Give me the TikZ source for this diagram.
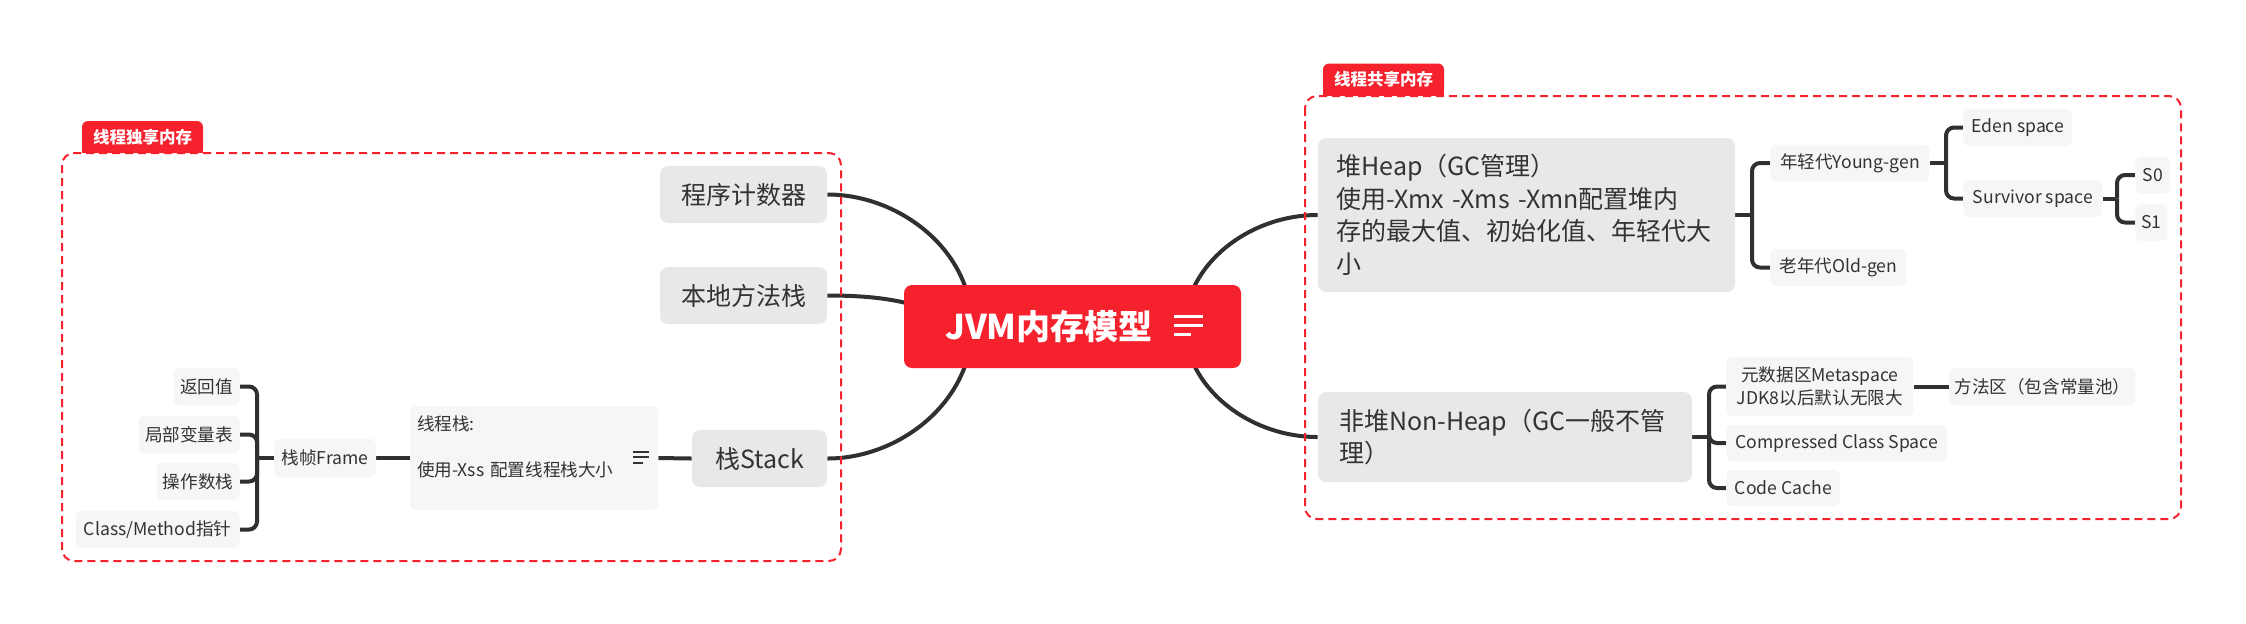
\documentclass[tikz,border=0pt]{standalone}
\usepackage{fontspec}
\setmainfont{Noto Sans CJK SC}
\usetikzlibrary{backgrounds}

\definecolor{jvmred}{RGB}{245,34,46}
\definecolor{topicgray}{RGB}{232,232,232}
\definecolor{subgray}{RGB}{246,246,246}
\definecolor{textdark}{RGB}{51,51,51}
\definecolor{linedark}{RGB}{48,48,48}

\begin{document}
\begin{tikzpicture}[
      x=0.5pt, y=-0.5pt,
      roottopic/.style={fill=jvmred, rounded corners=4pt, text=white, font=\fontsize{17}{20}\selectfont\bfseries, minimum width=168.5pt, minimum height=41.5pt, inner sep=0pt},
      maintopic/.style={fill=topicgray, rounded corners=4pt, text=textdark, font=\fontsize{12.5}{16.25}\selectfont, minimum height=28.5pt, inner sep=0pt},
      subtopic/.style={fill=subgray, rounded corners=3pt, text=textdark, font=\fontsize{8.8}{11.5}\selectfont, minimum height=18.5pt, inner sep=0pt},
      tagbox/.style={fill=jvmred, rounded corners=3pt, text=white, font=\fontsize{8.25}{10}\selectfont\bfseries, minimum width=60.5pt, minimum height=16pt, inner sep=0pt},
      groupframe/.style={draw=jvmred, line width=1pt, dash pattern=on 4pt off 2.5pt, rounded corners=6pt},
      trunk/.style={draw=linedark, line width=2pt},
      branch/.style={draw=linedark, line width=2pt, rounded corners=4pt}
    ]
    \useasboundingbox (0,0) rectangle (2246,623);

    % groups
    \draw[groupframe] (62,153) rectangle (841,561);
    \draw[groupframe] (1305,96) rectangle (2181,519);
    \node[tagbox] (ownTag) at (142.5,137) {线程独享内存};
    \node[tagbox] (sharedTag) at (1383.5,79.5) {线程共享内存};

    % root
    \node[roottopic] (jvm) at (1072.5,326.5) {JVM内存模型\hspace{23.5pt}\mbox{}};
    \draw[white, line width=1.4pt] ([shift={(101,-10)}]jvm.center) -- ++(29,0);
    \draw[white, line width=1.4pt] ([shift={(101,-1)}]jvm.center) -- ++(29,0);
    \draw[white, line width=1.4pt] ([shift={(101,8)}]jvm.center) -- ++(17,0);
    \coordinate (jvmL) at (972,326);
    \coordinate (jvmR) at (1185,326);

    % left side
    \node[maintopic, minimum width=83.5pt] (prog) at (743.5,194.5) {程序计数器};
    \node[maintopic, minimum width=83.5pt] (native) at (743.5,295.5) {本地方法栈};
    \node[maintopic, minimum width=67.5pt] (stack) at (759.5,458.5) {栈Stack};
    \node[subtopic, align=left, text width=117pt, inner xsep=3.5pt, minimum height=52pt] (threadnote) at (534,458) {线程栈:\\[11.5pt]使用-Xss 配置线程栈大小\\\mbox{}};
    \draw[textdark, line width=0.6pt] ([shift={(-25,-6)}]threadnote.east) -- ++(16,0);
    \draw[textdark, line width=0.6pt] ([shift={(-25,-1)}]threadnote.east) -- ++(16,0);
    \draw[textdark, line width=0.6pt] ([shift={(-25,5)}]threadnote.east) -- ++(10,0);
    \node[subtopic, minimum width=51pt, minimum height=19pt] (frame) at (325,458) {栈帧Frame};
    \coordinate (frameFork) at (257,458);
    \node[subtopic, minimum width=33pt, anchor=east] (retval) at (240,386.5) {返回值};
    \node[subtopic, minimum width=50.5pt, anchor=east] (locals) at (240,434.5) {局部变量表};
    \node[subtopic, minimum width=41.5pt, anchor=east] (operand) at (240,481.5) {操作数栈};
    \node[subtopic, minimum width=82pt, anchor=east] (classptr) at (240,529.5) {Class/Method指针};

    % right side
    \node[maintopic, align=left, text width=190pt, inner xsep=9.25pt, minimum height=77pt] (heap) at (1526.5,215) {堆Heap（GC管理）\\使用-Xmx -Xms -Xmn配置堆内\\存的最大值、初始化值、年轻代大\\小};
    \coordinate (heapFork) at (1752,215);
    \node[subtopic, minimum width=79.5pt, anchor=west] (young) at (1770,163) {年轻代Young-gen};
    \node[subtopic, minimum width=68pt, anchor=west] (old) at (1770,267.5) {老年代Old-gen};
    \coordinate (youngFork) at (1946,163);
    \node[subtopic, minimum width=54.5pt, anchor=west] (eden) at (1963,127.5) {Eden space};
    \node[subtopic, minimum width=69.5pt, anchor=west] (survivor) at (1963,198.5) {Survivor space};
    \coordinate (survFork) at (2117,198.5);
    \node[subtopic, minimum width=17.5pt, anchor=west] (szero) at (2135,175) {S0};
    \node[subtopic, minimum width=16pt, anchor=west] (sone) at (2135,222.5) {S1};

    \node[maintopic, align=left, text width=166pt, inner xsep=10.5pt, minimum height=45pt] (nonheap) at (1505,437) {非堆Non-Heap（GC一般不管\\理）};
    \coordinate (nonheapFork) at (1709,437);
    \node[subtopic, align=center, minimum width=93.5pt, minimum height=29.5pt, anchor=west] (meta) at (1726,386.5) {元数据区Metaspace\\JDK8以后默认无限大};
    \node[subtopic, minimum width=110.5pt, minimum height=18pt, anchor=west] (ccs) at (1726,443) {Compressed Class Space};
    \node[subtopic, minimum width=57pt, minimum height=18pt, anchor=west] (codecache) at (1726,488) {Code Cache};
    \node[subtopic, minimum width=93pt, anchor=west] (methodarea) at (1949,386.5) {方法区（包含常量池）};

    \begin{scope}[on background layer]
      \fill[jvmred] (ownTag.west) rectangle (ownTag.south east);
      \fill[jvmred] (sharedTag.west) rectangle (sharedTag.south east);

      \draw[trunk] (prog.east) .. controls +(72,0) and +(0,-76) .. (jvmL);
      \draw[trunk] (native.east) .. controls +(70,0) and +(-50,-20) .. (jvmL);
      \draw[trunk] (stack.east) .. controls +(72,0) and +(0,76) .. (jvmL);
      \draw[trunk] (heap.west) .. controls +(-70,0) and +(0,-60) .. (jvmR);
      \draw[trunk] (nonheap.west) .. controls +(-70,0) and +(0,60) .. (jvmR);

      \draw[trunk] (stack.west) -- (threadnote.east);
      \draw[trunk] (threadnote.west) -- (frame.east);
      \draw[trunk] (frame.west) -- (frameFork);
      \draw[branch] (frameFork) |- (retval.east);
      \draw[branch] (frameFork) |- (locals.east);
      \draw[branch] (frameFork) |- (operand.east);
      \draw[branch] (frameFork) |- (classptr.east);

      \draw[trunk] (heap.east) -- (heapFork);
      \draw[branch] (heapFork) |- (young.west);
      \draw[branch] (heapFork) |- (old.west);
      \draw[trunk] (young.east) -- (youngFork);
      \draw[branch] (youngFork) |- (eden.west);
      \draw[branch] (youngFork) |- (survivor.west);
      \draw[trunk] (survivor.east) -- (survFork);
      \draw[branch] (survFork) |- (szero.west);
      \draw[branch] (survFork) |- (sone.west);

      \draw[trunk] (nonheap.east) -- (nonheapFork);
      \draw[branch] (nonheapFork) |- (meta.west);
      \draw[branch] (nonheapFork) |- (ccs.west);
      \draw[branch] (nonheapFork) |- (codecache.west);
      \draw[trunk] (meta.east) -- (methodarea.west);
    \end{scope}
  \end{tikzpicture}
\end{document}
